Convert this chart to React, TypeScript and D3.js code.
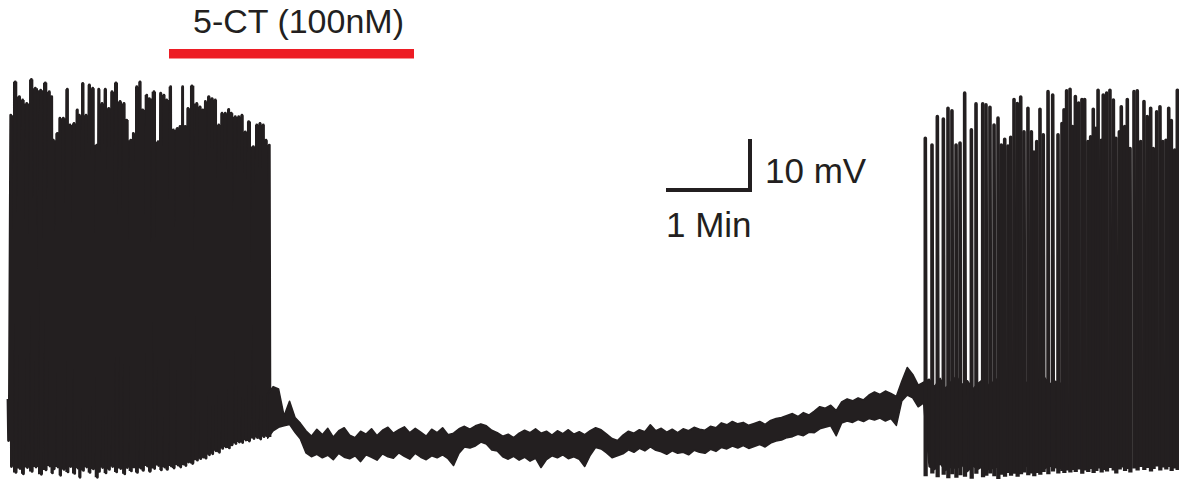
import React from 'react';
import * as d3 from 'd3';

const W = 1179;
const H = 479;
const INK = '#231f20';
const RED = '#ed1c24';

// ---- Recording data (time in s, membrane potential in mV) ----
const ONSET_T = [0, 0.4, 1.0];
const ONSET_MV = [-51, -59.5, -53];

// Control burst (before 5-CT)
const BURST1_SPIKE_T = [
  2.0, 5.3, 8.3, 10.7, 13.7, 17.1, 20.0, 23.9, 27.3, 30.2,
  32.0, 33.2, 36.1, 38.0, 40.5, 43.4, 45.4, 48.3, 50.7, 52.2,
  54.7, 57.1, 59.5, 62.0, 64.9, 66.4, 68.8, 71.2, 73.7, 76.1,
  79.0, 82.0, 84.9, 86.8, 89.8, 91.7, 94.2, 96.6, 98.5, 101.5,
  103.4, 106.8, 109.8, 111.7, 114.1, 116.1, 119.0, 121.0, 123.9, 125.9,
  127.8, 129.7, 131.7, 134.6, 138.1, 140.5, 142.5, 144.4, 146.9, 149.3,
  151.7, 154.2, 156.6, 159.0, 161.5, 163.4, 166.3, 168.8, 171.2, 173.6,
  176.1, 179.5, 182.0, 184.4, 186.8, 188.8, 191.2,
];
const BURST1_PEAK_MV = [
  6.9, 13.7, 10.7, 10.0, 9.3, 14.2, 12.4, 12.0, 13.5, 11.7,
  10.7, 1.8, 3.2, 6.3, 6.3, 12.2, 4.9, 5.2, 8.0, 6.9,
  13.4, 6.9, 13.1, 12.4, 0.8, 12.2, 9.3, 12.2, 8.3, 11.7,
  13.5, 9.7, 9.3, 5.9, 1.8, 3.2, 12.7, 13.7, 8.0, 11.0,
  10.3, 11.7, 1.5, 11.4, 11.0, 10.0, 12.7, 3.9, 4.2, 4.6,
  12.7, 4.6, 8.3, 12.9, 9.3, 8.6, 8.0, 9.7, 10.7, 10.3,
  10.0, 4.9, 7.3, 7.3, 8.1, 7.3, 6.6, 6.6, 6.9, 3.5,
  5.6, 0.5, 4.9, 5.2, 4.9, 1.8, 0.8,
];
const BURST1_TROUGH_MV = [
  -64.8, -66.0, -65.2, -66.3, -65.0, -65.8, -64.9, -66.4, -65.5, -64.7,
  -66.1, -65.3, -64.9, -66.6, -65.4, -65.9, -64.8, -66.2, -65.1, -67.0,
  -65.6, -64.9, -66.0, -65.3, -67.0, -65.8, -65.0, -66.1, -65.4, -64.8,
  -65.9, -65.2, -66.3, -65.0, -65.7, -64.9, -66.0, -65.1, -65.6, -64.7,
  -65.8, -65.2, -64.6, -65.5, -64.9, -65.4, -64.7, -65.1, -64.5, -64.9,
  -64.3, -64.6, -63.9, -64.2, -63.5, -63.2, -62.9, -63.1, -62.4, -62.2,
  -61.6, -61.9, -61.1, -60.8, -61.0, -60.4, -60.1, -59.8, -59.9, -59.4,
  -59.6, -59.1, -58.9, -59.2, -58.7, -58.5, -58.8,
];

// Subthreshold membrane potential envelope (min / max per 4 s bin)
const BAND_T0 = 190;
const BAND_DT = 4;
const BAND_MAX_MV = [
  -50.0, -48.5, -49.0, -54.5, -51.5, -54.8, -56.0, -57.5, -58.6, -57.2,
  -58.3, -57.0, -58.8, -57.5, -56.9, -58.4, -58.9, -57.6, -58.2, -57.1,
  -58.5, -57.4, -56.8, -58.0, -57.3, -56.7, -57.9, -57.0, -57.8, -58.6,
  -57.2, -57.9, -56.9, -58.3, -58.0, -57.1, -56.6, -57.2, -56.5, -56.1,
  -56.5, -57.4, -57.9, -58.6, -58.2, -58.9, -58.0, -57.4, -57.9, -57.1,
  -58.0, -57.6, -58.4, -57.5, -58.1, -57.3, -58.2, -57.7, -58.3, -57.5,
  -56.9, -57.3, -58.2, -59.1, -59.5, -58.4, -57.6, -58.0, -57.3, -57.7,
  -56.3, -57.5, -57.0, -57.8, -57.2, -57.9, -57.1, -57.5, -56.8, -57.2,
  -57.4, -56.6, -56.9, -55.9, -56.3, -55.6, -56.1, -55.8, -56.4, -56.0,
  -55.6, -56.2, -55.4, -55.0, -54.8, -54.4, -54.0, -54.6, -53.8, -54.3,
  -53.5, -52.6, -52.9, -52.3, -53.4, -51.6, -51.0, -51.4, -50.8, -51.2,
  -50.2, -49.6, -50.1, -49.4, -49.9, -50.5, -47.4, -44.6, -46.0, -48.2,
  -47.6, -47.0, -48.5, -46.8, -48.9, -47.5, -46.4, -48.1, -47.3, -49.0,
  -47.8, -46.9, -48.4, -47.2, -46.6, -48.7, -47.6, -48.2, -46.8, -47.9,
  -48.5, -47.1, -46.5, -48.0, -47.4, -47.8,
];
const BAND_MIN_MV = [
  -59.0, -57.5, -56.8, -56.5, -56.2, -57.8, -59.2, -62.0, -62.8, -62.3,
  -63.0, -62.5, -63.4, -62.1, -62.9, -63.2, -62.6, -63.8, -62.4, -62.9,
  -63.5, -62.2, -62.8, -63.1, -62.0, -62.7, -63.3, -62.1, -62.9, -63.4,
  -62.6, -63.0, -62.4, -63.2, -64.6, -62.1, -60.8, -61.0, -60.6, -59.8,
  -60.2, -61.4, -61.6, -62.8, -63.3, -62.7, -63.5, -62.9, -63.7, -63.1,
  -65.0, -63.4, -62.6, -63.0, -62.4, -63.2, -62.8, -63.3, -64.8, -62.5,
  -60.9, -61.2, -62.0, -63.0, -62.6, -62.2, -61.4, -61.9, -61.1, -61.6,
  -60.8, -61.5, -61.8, -62.3, -61.6, -62.1, -61.9, -62.4, -61.5, -61.9,
  -62.1, -61.3, -61.7, -60.9, -61.2, -60.6, -61.0, -60.5, -61.1, -60.7,
  -60.3, -60.8, -60.0, -59.6, -59.4, -58.9, -58.7, -58.2, -58.5, -57.8,
  -57.9, -57.1, -56.8, -56.5, -58.5, -55.9, -55.5, -55.8, -55.2, -55.6,
  -55.0, -55.3, -54.9, -55.5, -55.0, -56.4, -51.4, -50.2, -50.8, -52.6,
  -51.8, -64.8, -65.4, -64.2, -65.6, -64.9, -65.2, -64.5, -65.8, -64.7,
  -65.3, -64.6, -65.5, -64.9, -65.1, -64.4, -65.7, -64.8, -65.2, -64.6,
  -65.4, -64.9, -65.3, -64.7, -65.0, -65.2,
];

// Recovery burst (after washout)
const BURST2_SPIKE_T = [
  671.2, 676.1, 680.0, 684.4, 687.8, 690.7, 693.7, 696.6, 700.0, 704.9,
  708.3, 713.2, 715.6, 718.5, 721.5, 724.4, 726.8, 729.3, 731.7, 733.7,
  736.1, 738.5, 741.0, 743.4, 746.3, 748.8, 750.7, 752.7, 755.1, 757.5,
  761.0, 764.4, 768.3, 771.2, 772.7, 774.6, 777.1, 779.0, 781.0, 783.4,
  785.8, 787.8, 790.2, 792.2, 794.1, 796.1, 797.6, 800.0, 801.4, 803.9,
  806.3, 808.8, 810.7, 813.2, 814.6, 817.1, 819.0, 821.0, 823.9, 826.3,
  828.8, 831.2, 833.6, 836.1, 838.0, 840.5, 842.9, 844.9, 847.3, 849.3,
  851.2, 853.7, 855.6,
];
const BURST2_PEAK_MV = [
  2.2, 0.8, 6.6, 6.1, 8.3, 7.8, 0.8, 1.2, 11.4, 3.9,
  9.2, 9.2, 9.0, 8.5, 4.9, 6.3, 0.8, 2.0, 0.6, 2.4,
  10.1, 9.3, 10.6, 3.5, 8.3, 3.5, -0.6, 1.5, 8.1, 2.9,
  11.7, 11.0, 2.9, 5.2, 8.0, 11.9, 12.2, 4.6, 10.7, 9.4,
  10.1, 10.1, 1.5, 2.5, 8.1, 4.2, 12.0, 1.8, 11.0, 11.4,
  12.0, 10.0, 2.2, 3.5, 8.6, 4.6, 10.1, 0.1, 11.7, 11.9,
  1.5, 9.7, 6.6, 8.3, 0.1, 7.6, 8.6, 1.5, 1.8, 8.3,
  5.8, -0.2, 12.0,
];
const BURST2_TROUGH_MV = [
  -66.8, -66.2, -67.0, -66.5, -67.2, -66.4, -67.1, -66.6, -66.9, -67.3,
  -66.3, -67.0, -66.7, -66.2, -66.8, -67.4, -66.5, -66.9, -66.1, -66.7,
  -66.3, -66.9, -66.4, -66.0, -66.6, -66.2, -66.8, -66.1, -66.5, -65.9,
  -66.4, -65.8, -66.2, -65.7, -66.1, -65.6, -66.0, -65.5, -65.9, -65.4,
  -66.3, -65.6, -65.9, -65.3, -66.1, -65.7, -65.2, -66.0, -65.5, -65.8,
  -65.1, -65.6, -66.2, -65.4, -65.0, -65.7, -65.3, -66.0, -65.2, -65.6,
  -64.9, -65.5, -65.1, -65.8, -65.3, -64.8, -65.6, -65.0, -65.4, -64.9,
  -65.7, -65.2, -65.5,
];

const SPIKE_FALL_S = 0.5;
const DRUG_LABEL = '5-CT (100nM)';
const SCALE_T_LABEL = '1 Min';
const SCALE_V_LABEL = '10 mV';
const SCALE_T_S = 60;
const SCALE_V_MV = 10;

type Pt = [number, number];
type Bin = { t: number; hi: number; lo: number };

export default function App() {
  const x = d3.scaleLinear().domain([0, 860]).range([8, 8 + (860 * 82) / 60]);
  const y = d3.scaleLinear().domain([-70, 20]).range([492, 51]);

  const line = d3
    .line<Pt>()
    .x((d) => x(d[0]))
    .y((d) => y(d[1]));

  // Burst 1: min/max envelope per spike (dense firing) + trace on top
  const b1Spikes: Bin[] = BURST1_SPIKE_T.map((t, i) => ({
    t,
    hi: BURST1_PEAK_MV[i],
    lo: BURST1_TROUGH_MV[i],
  }));
  const stepArea = d3
    .area<Bin>()
    .curve(d3.curveStep)
    .x((d) => x(d.t))
    .y0((d) => y(d.lo))
    .y1((d) => y(d.hi));

  const b1: Pt[] = ONSET_T.map((t, i) => [t, ONSET_MV[i]] as Pt);
  BURST1_SPIKE_T.forEach((t, i) => {
    b1.push([t, BURST1_PEAK_MV[i]]);
    b1.push([t + SPIKE_FALL_S, BURST1_TROUGH_MV[i]]);
  });

  // Subthreshold envelope (min/max per bin)
  const band: Bin[] = BAND_MAX_MV.map((hi, i) => ({
    t: BAND_T0 + i * BAND_DT,
    hi,
    lo: BAND_MIN_MV[i],
  }));
  const bandArea = d3
    .area<Bin>()
    .x((d) => x(d.t))
    .y0((d) => y(d.lo))
    .y1((d) => y(d.hi));

  // Burst 2 spikes
  const b2Paths = BURST2_SPIKE_T.map((t, i) =>
    line([
      [t, BURST2_TROUGH_MV[i]],
      [t, BURST2_PEAK_MV[i]],
      [t + SPIKE_FALL_S, BURST2_TROUGH_MV[i]],
    ])
  );

  // scale bar
  const barLenX = x(SCALE_T_S) - x(0);
  const barLenY = y(-60) - y(-60 + SCALE_V_MV);
  const cornerX = 750;
  const cornerY = 190;

  const font = "'Liberation Sans', Arial, Helvetica, sans-serif";

  return (
    <svg
      width={W}
      height={H}
      viewBox={`0 0 ${W} ${H}`}
      style={{ position: 'absolute', left: 0, top: 0, background: '#fff' }}
    >
      <rect x={0} y={0} width={W} height={H} fill="#fff" />
      {/* drug application */}
      <text x={193} y={33} fontFamily={font} fontSize={34} fill={INK}>
        {DRUG_LABEL}
      </text>
      <rect x={169} y={49} width={245} height={9.5} fill={RED} />

      {/* trace */}
      <path d={stepArea(b1Spikes) || ''} fill={INK} stroke="none" />
      <path
        d={line(b1) || ''}
        fill="none"
        stroke={INK}
        strokeWidth={2.8}
        strokeLinejoin="round"
      />
      <path
        d={bandArea(band) || ''}
        fill={INK}
        stroke={INK}
        strokeWidth={1.6}
        strokeLinejoin="round"
      />
      {b2Paths.map((d, i) => (
        <path
          key={i}
          d={d || ''}
          fill="none"
          stroke={INK}
          strokeWidth={3.6}
          strokeLinejoin="round"
        />
      ))}

      {/* scale bar */}
      <path
        d={`M${cornerX - barLenX},${cornerY}L${cornerX},${cornerY}L${cornerX},${cornerY - barLenY}`}
        fill="none"
        stroke={INK}
        strokeWidth={4}
        strokeLinecap="square"
      />
      <text x={765} y={183} fontFamily={font} fontSize={35} fill={INK}>
        {SCALE_V_LABEL}
      </text>
      <text x={666} y={237} fontFamily={font} fontSize={35} fill={INK}>
        {SCALE_T_LABEL}
      </text>
    </svg>
  );
}
